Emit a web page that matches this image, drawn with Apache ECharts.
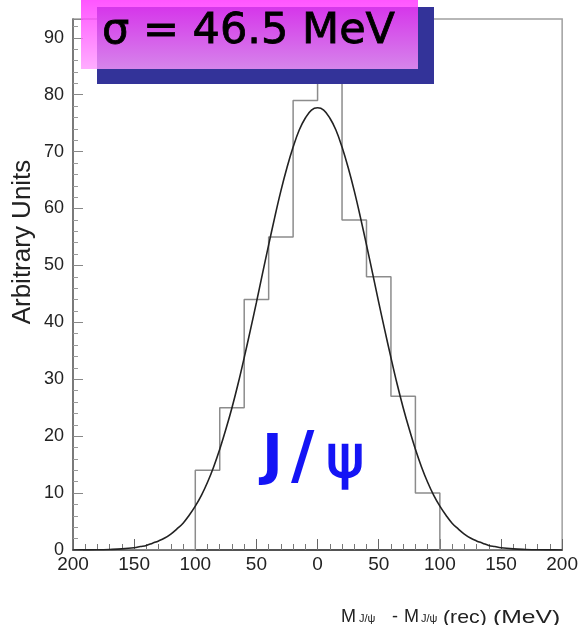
<!DOCTYPE html>
<html>
<head>
<meta charset="utf-8">
<title>J/psi mass resolution</title>
<script src="https://cdn.jsdelivr.net/npm/echarts@6/dist/echarts.min.js"></script>
<style>
  html, body { margin: 0; padding: 0; background: #ffffff; }
  #chart { width: 581px; height: 625px; }
</style>
</head>
<body>
<div id="chart"></div>
<script>
// Histogram: lower bin edges (MeV) and bin contents
const binEdges = [-200, -180, -160, -140, -120, -100, -80, -60, -40, -20,
                  0, 20, 40, 60, 80, 100, 120, 140, 160, 180];
const binCounts = [0, 0, 0, 0, 0, 14, 25, 44, 55, 79,
                   89, 58, 48, 27, 10, 0, 0, 0, 0, 0];
const histUpperEdge = 200;

// Gaussian fit curve sampled along the axis
const fitX = [-200, -190, -180, -170, -160, -150, -145, -140, -135, -130, -125, -120, -115, -110, -105,
              -100, -95, -90, -85, -80, -75, -70, -65, -60, -55, -50, -45, -40, -35, -30, -25, -20, -15, -10, -5,
              0, 5, 10, 15, 20, 25, 30, 35, 40, 45, 50, 55, 60, 65, 70, 75, 80, 85, 90, 95, 100,
              105, 110, 115, 120, 125, 130, 135, 140, 145, 150, 160, 170, 180, 190, 200];
const fitY = [0.01, 0.02, 0.04, 0.1, 0.2, 0.4, 0.6, 0.8, 1.2, 1.6, 2.1, 2.8, 3.7, 4.7, 6.1,
              7.7, 9.6, 11.9, 14.6, 17.7, 21.2, 25.0, 29.2, 33.8, 38.6, 43.5, 48.6, 53.6, 58.5, 63.1, 67.2, 70.8, 73.8, 75.9, 77.3,
              77.7, 77.3, 75.9, 73.8, 70.8, 67.2, 63.1, 58.5, 53.6, 48.6, 43.5, 38.6, 33.8, 29.2, 25.0, 21.2, 17.7, 14.6, 11.9, 9.6, 7.7,
              6.1, 4.7, 3.7, 2.8, 2.1, 1.6, 1.2, 0.8, 0.6, 0.4, 0.2, 0.1, 0.04, 0.02, 0.01];

// Axis settings
const xMin = -200, xMax = 200, xStep = 50;
const yMin = 0, yMax = 93.3, yStep = 10;
const yTitle = 'Arbitrary Units';
const boxLabel = 'σ = 46.5 MeV';
const particleParts = ['J', '/', 'ψ'];

const histData = binEdges.map((e, i) => [e, binCounts[i]]);
histData.push([histUpperEdge, 0]);
const fitData = fitX.map((x, i) => [x, fitY[i]]);

const FONT = 'Liberation Sans, Arial, sans-serif';
const SYM = 'DejaVu Sans, sans-serif';

const chart = echarts.init(document.getElementById('chart'), null, { renderer: 'canvas' });

chart.setOption({
  animation: false,
  backgroundColor: '#ffffff',
  grid: {
    left: 73, top: 19, right: 16, bottom: 75,
    show: true, borderColor: '#a0a0a0', borderWidth: 1.5, backgroundColor: 'transparent'
  },
  xAxis: {
    type: 'value', min: xMin, max: xMax, interval: xStep,
    axisLine: { show: true, onZero: false, lineStyle: { color: '#333', width: 1.5 } },
    axisTick: { show: true, inside: true, length: 11, lineStyle: { color: '#666', width: 1 } },
    minorTick: { show: true, splitNumber: 5, length: 6, lineStyle: { color: '#777', width: 1 } },
    splitLine: { show: false },
    axisLabel: {
      margin: 5, fontFamily: FONT, fontSize: 19, color: '#222',
      formatter: v => String(Math.abs(v))
    }
  },
  yAxis: {
    type: 'value', min: yMin, max: yMax, interval: yStep,
    axisLine: { show: true, onZero: false, lineStyle: { color: '#666', width: 1.5 } },
    axisTick: { show: true, inside: true, length: 10, lineStyle: { color: '#888', width: 1 } },
    minorTick: { show: true, splitNumber: 5, length: 5, lineStyle: { color: '#999', width: 1 } },
    splitLine: { show: false },
    axisLabel: { margin: 9, fontFamily: FONT, fontSize: 18, color: '#222', showMaxLabel: false }
  },
  series: [
    {
      name: 'histogram', type: 'line', step: 'end', data: histData,
      showSymbol: false, silent: true,
      lineStyle: { color: '#8c8c8c', width: 1.5 }, z: 2
    },
    {
      name: 'fit', type: 'line', data: fitData, smooth: 0.4,
      showSymbol: false, silent: true,
      lineStyle: { color: '#222', width: 1.6 }, z: 3
    }
  ],
  graphic: [
    // y-axis title
    {
      type: 'text', x: 23, y: 242, rotation: Math.PI / 2,
      style: { text: yTitle, font: '26px ' + FONT, fill: '#222', align: 'center', verticalAlign: 'middle' }
    },
    // x-axis title with subscripts
    { type: 'text', x: 341, y: 608, style: { text: 'M', font: '18px ' + FONT, fill: '#222', verticalAlign: 'alphabetic' } },
    { type: 'text', x: 359, y: 613, style: { text: 'J/ψ', font: '11px ' + FONT, fill: '#222', verticalAlign: 'alphabetic' } },
    { type: 'text', x: 392, y: 608, style: { text: '-', font: '18px ' + FONT, fill: '#222', verticalAlign: 'alphabetic' } },
    { type: 'text', x: 404, y: 608, style: { text: 'M', font: '18px ' + FONT, fill: '#222', verticalAlign: 'alphabetic' } },
    { type: 'text', x: 421, y: 613, style: { text: 'J/ψ', font: '11px ' + FONT, fill: '#222', verticalAlign: 'alphabetic' } },
    { type: 'text', x: 443, y: 608, scaleX: 1.12, style: { text: '(rec)', font: '19px ' + FONT, fill: '#222', verticalAlign: 'alphabetic' } },
    { type: 'text', x: 493, y: 608, scaleX: 1.3, style: { text: '(MeV)', font: '19px ' + FONT, fill: '#222', verticalAlign: 'alphabetic' } },
    // particle label
    { type: 'text', x: 262, y: 458, z: 10, style: { text: particleParts[0], font: 'bold 56px ' + SYM, fill: '#1414f5', verticalAlign: 'middle' } },
    { type: 'text', x: 291, y: 460, z: 10, style: { text: particleParts[1], font: 'bold 64px ' + SYM, fill: '#1414f5', verticalAlign: 'middle' } },
    { type: 'text', x: 326, y: 462, z: 10, style: { text: particleParts[2], font: '58px ' + SYM, fill: '#1414f5', stroke: '#1414f5', lineWidth: 1.5, verticalAlign: 'middle' } },
    // resolution box: shadow, translucent pink panel, text
    { type: 'rect', z: 20, shape: { x: 97, y: 7, width: 337, height: 77 }, style: { fill: '#333399' } },
    {
      type: 'rect', z: 21, shape: { x: 81, y: 0, width: 337, height: 69 },
      style: {
        opacity: 0.8,
        fill: new echarts.graphic.LinearGradient(0, 0, 0, 1, [
          { offset: 0, color: '#ff2cff' },
          { offset: 1, color: '#ff99ff' }
        ])
      }
    },
    {
      type: 'text', z: 22, x: 102, y: 32,
      style: {
        text: boxLabel, font: '43px ' + SYM, fill: '#000',
        stroke: '#000', lineWidth: 0.8, verticalAlign: 'middle'
      }
    }
  ]
});
</script>
</body>
</html>
